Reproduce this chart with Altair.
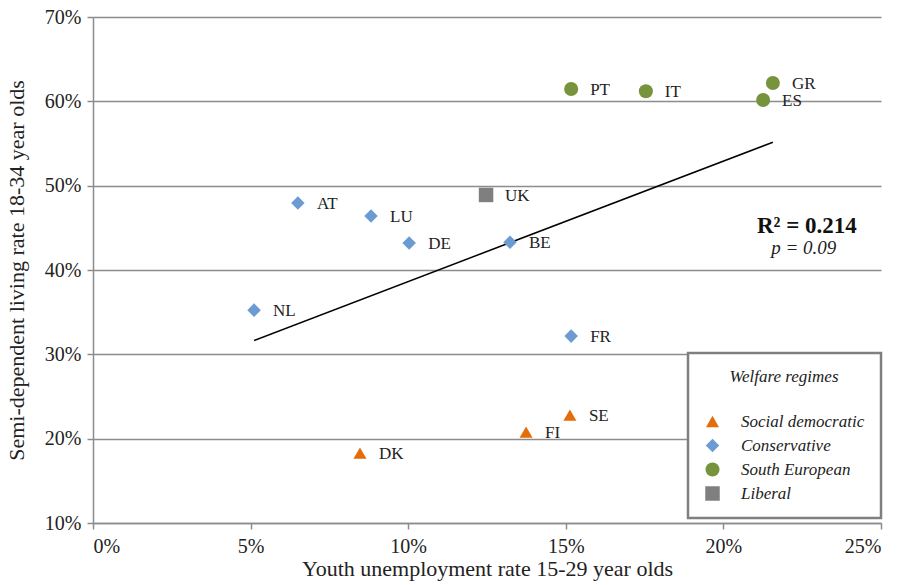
import altair as alt
import pandas as pd

countries = ["PT", "IT", "GR", "ES", "UK", "AT", "LU", "DE", "BE", "NL", "FR", "SE", "FI", "DK"]
unemployment = [0.1517, 0.1754, 0.2157, 0.2126, 0.1247, 0.0650, 0.0882, 0.1003, 0.1323, 0.0511, 0.1517, 0.1513, 0.1374, 0.0847]
semi_dependent = [0.6146, 0.6120, 0.6217, 0.6015, 0.4890, 0.4794, 0.4640, 0.4320, 0.4330, 0.3524, 0.3216, 0.2279, 0.2077, 0.1828]
regime = ["South European", "South European", "South European", "South European", "Liberal",
          "Conservative", "Conservative", "Conservative", "Conservative", "Conservative", "Conservative",
          "Social democratic", "Social democratic", "Social democratic"]

regime_order = ["Social democratic", "Conservative", "South European", "Liberal"]
regime_colors = ["#E46C0A", "#6C9BD2", "#77933C", "#7F7F7F"]
regime_shapes = ["triangle-up", "diamond", "circle", "square"]
regime_sizes = [170, 210, 230, 170]

x_ticks = [0, 0.05, 0.10, 0.15, 0.20, 0.25]
y_ticks = [0.1, 0.2, 0.3, 0.4, 0.5, 0.6, 0.7]

annot_r2 = ["R² = 0.214"]
annot_p = ["p = 0.09"]
annot_x = [0.2265, 0.2255]
annot_y = [0.4525, 0.4265]

FONT = "Liberation Serif"

df = pd.DataFrame({"country": countries, "x": unemployment, "y": semi_dependent, "regime": regime})

xscale = alt.Scale(domain=[0, 0.25], nice=False, zero=False)
yscale = alt.Scale(domain=[0.1, 0.7], nice=False, zero=False)

xenc = alt.X("x:Q", scale=xscale,
             axis=alt.Axis(values=x_ticks, format=".0%", grid=False,
                           title="Youth unemployment rate 15-29 year olds",
                           labelFont=FONT, titleFont=FONT,
                           labelPadding=7, titlePadding=2, titleFontSize=22))
yenc = alt.Y("y:Q", scale=yscale,
             axis=alt.Axis(values=y_ticks, format=".0%", grid=True,
                           title="Semi-dependent living rate 18-34 year olds",
                           labelFont=FONT, titleFont=FONT,
                           labelPadding=6, titlePadding=16, titleFontSize=22))

base = alt.Chart(df)

points = base.mark_point(filled=True, opacity=1, strokeWidth=0.8).encode(
    x=xenc, y=yenc,
    color=alt.Color("regime:N", scale=alt.Scale(domain=regime_order, range=regime_colors),
                    legend=alt.Legend(title="Welfare regimes")),
    shape=alt.Shape("regime:N", scale=alt.Scale(domain=regime_order, range=regime_shapes),
                    legend=alt.Legend(title="Welfare regimes")),
    size=alt.Size("regime:N", scale=alt.Scale(domain=regime_order, range=regime_sizes), legend=None),
)

labels = base.mark_text(align="left", baseline="middle", dx=19, dy=1, font=FONT,
                        fontSize=17, color="#222222").encode(
    x=alt.X("x:Q", scale=xscale), y=alt.Y("y:Q", scale=yscale), text="country:N")

trend = base.transform_regression("x", "y").mark_line(color="black", strokeWidth=1.5).encode(
    x=alt.X("x:Q", scale=xscale), y=alt.Y("y:Q", scale=yscale))

r2 = alt.Chart(pd.DataFrame({"t": annot_r2, "x": annot_x[:1], "y": annot_y[:1]})).mark_text(
    font=FONT, fontSize=23, fontWeight="bold", color="#111111", align="center", baseline="middle"
).encode(x=alt.X("x:Q", scale=xscale), y=alt.Y("y:Q", scale=yscale), text="t:N")

pval = alt.Chart(pd.DataFrame({"t": annot_p, "x": annot_x[1:], "y": annot_y[1:]})).mark_text(
    font=FONT, fontSize=19, fontStyle="italic", color="#222222", align="center", baseline="middle"
).encode(x=alt.X("x:Q", scale=xscale), y=alt.Y("y:Q", scale=yscale), text="t:N")

chart = alt.layer(trend, points, labels, r2, pval).properties(
    width=788, height=506,
    autosize=alt.AutoSizeParams(type="none"),
    padding={"left": 93, "top": 17, "right": 18, "bottom": 62},
).configure_view(stroke=None).configure_axis(
    labelFont=FONT, titleFont=FONT, labelFontSize=20,
    labelColor="#222222", titleColor="#222222", titleFontWeight="normal",
    domainColor="#8c8c8c", domainWidth=1.5, tickColor="#8c8c8c", tickWidth=1.5, tickSize=6,
    gridColor="#8c8c8c", gridWidth=1.5,
).configure_legend(
    orient="none", legendX=595, legendY=336,
    fillColor="white", strokeColor="#7f7f7f", strokeWidth=2.5,
    padding=16, titleFont=FONT, titleFontSize=17, titleFontStyle="italic", titleFontWeight="normal",
    titleColor="#222222", titleAnchor="middle", titlePadding=27,
    labelFont=FONT, labelFontSize=17, labelFontStyle="italic", labelColor="#222222",
    labelOffset=20, rowPadding=6, symbolSize=130, symbolStrokeWidth=0,
)

chart.save("out.html", embed_options={"renderer": "svg", "actions": False})
